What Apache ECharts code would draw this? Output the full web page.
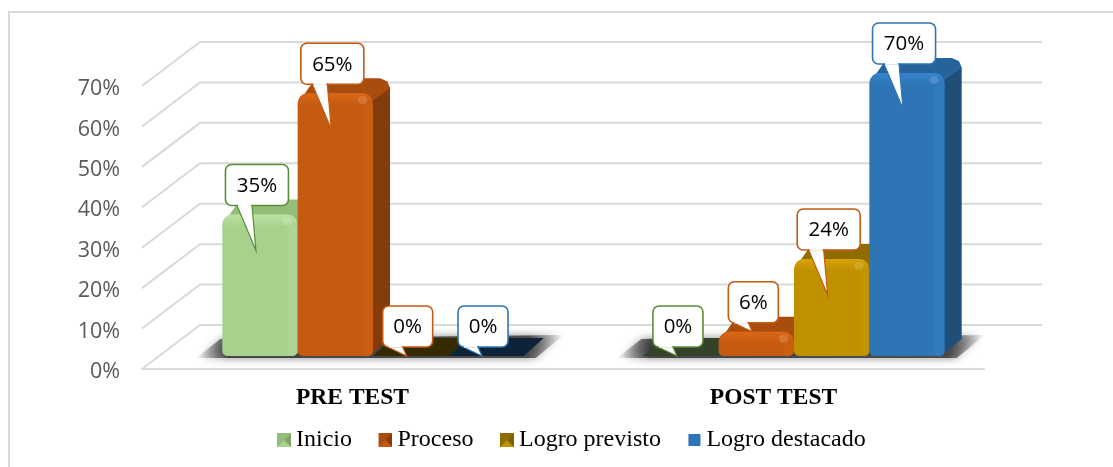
<!DOCTYPE html>
<html>
<head>
<meta charset="utf-8">
<style>
  html, body { margin: 0; padding: 0; background: #fff; }
  #chart { width: 1113px; height: 467px; }
</style>
<script src="https://cdn.jsdelivr.net/npm/echarts@6/dist/echarts.min.js"></script>
</head>
<body>
<div id="chart"></div>
<script>
const categories = ['PRE TEST', 'POST TEST'];
const yTicks = [0, 10, 20, 30, 40, 50, 60, 70];
const inicio = [35, 0];
const proceso = [65, 6];
const logroPrevisto = [0, 24];
const logroDestacado = [0, 70];

const palette = [
  { name: 'Inicio', values: inicio, front: '#a9d18e', edge: '#aed593', light: '#bde3a2', top: '#93bd78', side: '#7ea565', floor: '#334229', callout: '#5b8c36' },
  { name: 'Proceso', values: proceso, front: '#c55a11', edge: '#cc5e12', light: '#dc6716', top: '#a84d0e', side: '#843c0c', floor: '#4a2408', callout: '#c55a11' },
  { name: 'Logro previsto', values: logroPrevisto, front: '#bf9000', edge: '#c49400', light: '#d6a406', top: '#8f6c00', side: '#7f6000', floor: '#352a00', callout: '#c55a11' },
  { name: 'Logro destacado', values: logroDestacado, front: '#2e75b6', edge: '#307abe', light: '#3584ce', top: '#27639b', side: '#1f4e79', floor: '#0f2338', callout: '#2e75b6' }
];

function hgrad(stops) {
  return { type: 'linear', x: 0, y: 0, x2: 1, y2: 0, colorStops: stops };
}
function vgrad(stops) {
  return { type: 'linear', x: 0, y: 0, x2: 0, y2: 1, colorStops: stops };
}

// wall and floor lines, one polyline per tick
function renderWall(params, api) {
  const sys = params.coordSys;
  const y = api.coord([0, api.value(0)])[1];
  return {
    type: 'polyline',
    shape: { points: [[sys.x, y], [sys.x + 58, y - 44], [sys.x + sys.width + 58, y - 44]] },
    style: { stroke: '#d9d9d9', lineWidth: 2, fill: null },
    z2: 0
  };
}

// soft shadow on the floor below each group of bars
function renderShadow(params, api) {
  const p = api.coord([api.value(0), 0]);
  const band = api.size([1, 0])[0];
  const w = band * 0.179 * 4;
  const x = p[0] + 20.5 - w / 2;
  const base = p[1] - 13;
  return {
    type: 'polygon',
    shape: { points: [[x - 26, base + 2], [x - 2, base - 17], [x + w + 40, base - 21], [x + w + 12, base + 2]] },
    style: {
      fill: hgrad([
        { offset: 0, color: 'rgba(50,50,50,0)' },
        { offset: 0.09, color: 'rgba(50,50,50,0.85)' },
        { offset: 0.9, color: 'rgba(50,50,50,0.8)' },
        { offset: 1, color: 'rgba(50,50,50,0)' }
      ]),
      shadowBlur: 9,
      shadowColor: 'rgba(50,50,50,0.7)'
    },
    z2: 1
  };
}

function makeBar(s, idx, x, w, top, base) {
  const dx = 17, dy = 15;
  const order = 10 + idx;
  if (base - top < 1) {
    return [{
      type: 'polygon',
      shape: { points: [[x, base], [x + 20, base - 18], [x + w + 20, base - 18], [x + w, base]] },
      style: { fill: s.floor },
      z2: order
    }];
  }
  const h = base - top;
  return [
    {
      type: 'polygon',
      shape: { points: [[x + w - 4, base], [x + w + dx, base - dy - 2], [x + w + dx, top - dy + 10], [x + w + dx - 3, top - dy + 3], [x + w - 3, top + 3]] },
      style: { fill: s.side },
      z2: order
    },
    {
      type: 'polygon',
      shape: { points: [[x + 2, top + 7], [x + 6, top + 2], [x + dx - 2, top - dy + 4], [x + dx + 6, top - dy], [x + w + dx - 10, top - dy], [x + w + dx - 3, top - dy + 3], [x + w + dx, top - dy + 10], [x + w - 3, top + 9]] },
      style: { fill: s.top },
      z2: order
    },
    {
      type: 'rect',
      shape: { x: x, y: top, width: w, height: h, r: [10, 10, 5, 5] },
      style: {
        fill: hgrad([
          { offset: 0, color: s.front },
          { offset: 0.84, color: s.front },
          { offset: 0.9, color: s.edge },
          { offset: 0.98, color: s.edge },
          { offset: 1, color: s.front }
        ])
      },
      z2: order
    },
    {
      type: 'rect',
      shape: { x: x + 1, y: top, width: w - 2, height: Math.min(12, h - 3), r: [9, 9, 0, 0] },
      style: { fill: vgrad([{ offset: 0, color: s.light }, { offset: 1, color: s.front }]) },
      z2: order
    },
    {
      type: 'rect',
      shape: { x: x + w - 15, y: top + 3, width: 9, height: 8, r: 4 },
      style: { fill: '#ffffff', opacity: 0.14 },
      z2: order
    }
  ];
}

function makeCallout(s, value, barCenter, top) {
  const text = value + '%';
  const boxW = value >= 10 ? 63 : 50;
  const boxH = 41;
  const left = barCenter - 3 - boxW / 2;
  const bottom = top - 9;
  const tipX = barCenter - 4;
  const tipY = value >= 10 ? top + 36 : Math.min(top, bottom + 9);
  return [
    {
      type: 'rect',
      shape: { x: left, y: bottom - boxH, width: boxW, height: boxH, r: 6 },
      style: { fill: '#ffffff', stroke: s.callout, lineWidth: 1.6 },
      z2: 100
    },
    {
      type: 'polygon',
      shape: { points: [[tipX - 19, bottom], [tipX, tipY], [tipX - 4, bottom]] },
      style: { fill: '#ffffff', stroke: s.callout, lineWidth: 1.2 },
      z2: 101
    },
    {
      type: 'line',
      shape: { x1: tipX - 18, y1: bottom - 0.6, x2: tipX - 5, y2: bottom - 0.6 },
      style: { stroke: '#ffffff', lineWidth: 2.5 },
      z2: 102
    },
    {
      type: 'text',
      style: {
        text: text,
        x: left + boxW / 2,
        y: bottom - boxH / 2 + 1,
        align: 'center',
        verticalAlign: 'middle',
        fill: '#000000',
        font: '20.5px "Open Sans"'
      },
      z2: 103
    }
  ];
}

function renderBar(seriesIdx) {
  return function (params, api) {
    const s = palette[seriesIdx];
    const cat = api.value(0);
    const value = api.value(1);
    const band = api.size([1, 0])[0];
    const w = band * 0.179;
    const zero = api.coord([cat, 0]);
    const x = zero[0] + 20.5 - 2 * w + seriesIdx * w;
    const base = zero[1] - 13;
    const top = api.coord([cat, value])[1] - 13;
    return {
      type: 'group',
      children: makeBar(s, seriesIdx, x, w, top, base).concat(makeCallout(s, value, x + w / 2, top))
    };
  };
}

// bevelled square for the legend, blue one stays flat
function legendIcon(s, flat) {
  const svg = flat
    ? `<svg xmlns="http://www.w3.org/2000/svg" width="14" height="14"><rect x="1" y="1" width="12" height="12" fill="${s.front}"/></svg>`
    : `<svg xmlns="http://www.w3.org/2000/svg" width="14" height="14">` +
      `<rect width="14" height="14" fill="${s.front}"/>` +
      `<polygon points="0,0 14,0 7,7" fill="${s.top}"/>` +
      `<polygon points="14,0 14,14 7,7" fill="${s.side}"/>` +
      `<polygon points="0,0 0,14 7,7" fill="${s.top}"/>` +
      `</svg>`;
  return 'image://data:image/svg+xml,' + encodeURIComponent(svg);
}

const chart = echarts.init(document.getElementById('chart'));
chart.setOption({
  animation: false,
  backgroundColor: '#ffffff',
  grid: { left: 142, top: 86, width: 842, height: 283 },
  // frame of the picture: only the top and left edges are visible
  graphic: [
    { type: 'rect', shape: { x: 8, y: 11, width: 1105, height: 2 }, style: { fill: '#d9d9d9' }, silent: true },
    { type: 'rect', shape: { x: 8, y: 11, width: 2, height: 456 }, style: { fill: '#d9d9d9' }, silent: true }
  ],
  xAxis: {
    type: 'category',
    data: categories,
    axisLine: { lineStyle: { color: '#d9d9d9', width: 2 } },
    axisTick: { show: false },
    axisLabel: {
      fontFamily: '"Liberation Serif"',
      fontWeight: 'bold',
      fontSize: 23.5,
      color: '#000000',
      margin: 17
    }
  },
  yAxis: {
    type: 'value',
    min: 0,
    max: 70,
    interval: 10,
    axisLine: { show: false },
    axisTick: { show: false },
    splitLine: { show: false },
    axisLabel: {
      formatter: '{a|{value}%}',
      margin: 22,
      rich: {
        a: {
          fontFamily: '"Open Sans"',
          fontSize: 21.5,
          color: '#595959',
          padding: [6, 0, 0, 0]
        }
      }
    }
  },
  legend: {
    left: 277,
    top: 428,
    padding: 0,
    itemGap: 26.5,
    itemWidth: 14,
    itemHeight: 14,
    selectedMode: false,
    textStyle: { fontFamily: '"Liberation Serif"', fontSize: 24, color: '#000000' },
    data: palette.map((s, i) => ({ name: s.name, icon: legendIcon(s, i === 3) }))
  },
  series: [
    {
      type: 'custom',
      name: 'pared',
      coordinateSystem: 'cartesian2d',
      renderItem: renderWall,
      data: yTicks.map(v => [v]),
      encode: { y: 0 },
      silent: true
    },
    {
      type: 'custom',
      name: 'sombra',
      coordinateSystem: 'cartesian2d',
      renderItem: renderShadow,
      data: categories.map((c, i) => [i]),
      encode: { x: 0 },
      silent: true
    }
  ].concat(palette.map((s, i) => ({
    type: 'custom',
    name: s.name,
    coordinateSystem: 'cartesian2d',
    renderItem: renderBar(i),
    itemStyle: { color: s.front },
    data: s.values.map((v, c) => [c, v]),
    encode: { x: 0, y: 1 }
  })))
});
</script>
</body>
</html>
